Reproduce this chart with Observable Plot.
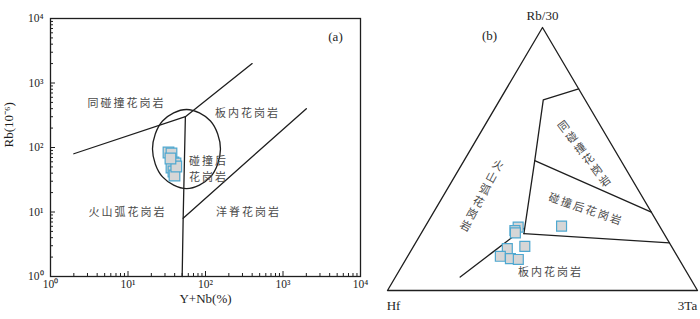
<!DOCTYPE html>
<html><head><meta charset="utf-8">
<script src="https://cdn.jsdelivr.net/npm/d3@7"></script>
<script src="https://cdn.jsdelivr.net/npm/@observablehq/plot@0.6"></script>
<style>
html,body{margin:0;padding:0;background:#fff;}
#wrap{display:flex;width:700px;height:319px;overflow:hidden;}
.cn{letter-spacing:2px;}
</style></head><body><div id="wrap"></div>
<script>
// ---------- (a) Rb vs Y+Nb ----------
const sampleYNb = [33.3, 36.4, 38.6, 41, 36.4, 38.6, 39.8, 42, 35.3];
const sampleRb  = [83.6, 80.7, 58.5, 56.5, 49, 42.5, 36.8, 50.7, 67.5];
const boundarySynVag = [[2, 80], [55, 300]];
const boundarySynWpg = [[55, 300], [400, 2000]];
const boundaryVagWpg = [[55, 300], [51.5, 8], [50, 1]];
const boundaryOrgWpg = [[51.5, 8], [2000, 400]];
const postColField = [[156, 94.8], [116, 257], [57, 388], [27.9, 257], [20.7, 94.8], [27.9, 35], [57, 23.1], [116, 35]];
const majorTicks = [1, 10, 100, 1000, 10000];
const supDigits = ["⁰", "¹", "²", "³", "⁴"];
const fieldNamesA = ["同碰撞花岗岩", "板内花岗岩", "碰撞后", "花岗岩", "火山弧花岗岩", "洋脊花岗岩"];
const fieldPosAx = [9.57, 348, 109, 109, 9.86, 359];
const fieldPosAy = [481, 337, 60, 34, 9.83, 9.83];

// ---------- (b) Hf - Rb/30 - 3Ta ----------
const sampleHf = [0.458, 0.475, 0.478, 0.316, 0.473, 0.534, 0.571, 0.543, 0.519];
const sampleRb30 = [0.241, 0.228, 0.219, 0.245, 0.168, 0.159, 0.130, 0.121, 0.118];
const sample3Ta = [0.301, 0.297, 0.303, 0.439, 0.359, 0.307, 0.299, 0.336, 0.363];
// boundary vertices as [Hf, Rb/30, 3Ta]
const triEdge = [[1, 0, 0], [0, 1, 0], [0, 0, 1], [1, 0, 0]];
const lineSynCol = [[0, 0.767, 0.233], [0.135, 0.725, 0.14], [0.278, 0.494, 0.228], [0.452, 0.216, 0.332]];
const lineSynPost = [[0.278, 0.494, 0.228], [0, 0.298, 0.702]];
const linePostWp = [[0.452, 0.216, 0.332], [0, 0.181, 0.819]];
const lineVagWp = [[0.74, 0.051, 0.209], [0.592, 0.143, 0.265], [0.442, 0.236, 0.322]];
const fieldNamesB = ["火\n山\n弧\n花\n岗\n岩", "同\n碰\n撞\n花\n岗\n岩", "碰撞后花岗岩", "板内花岗岩"];
const fieldPosB = [[0.512, 0.361, 0.127], [0.102, 0.524, 0.374], [0.204, 0.311, 0.485], [0.439, 0.070, 0.491]];
const fieldRotB = [28, -37, 19, 0];

const ink = "#1e1e1e";
const labelInk = "#4a4a4a";
const sqFill = "#d6d6d6";
const sqStroke = "#4fa8d0";
const serif = "'Liberation Serif', 'Times New Roman', serif";

const minorTicks = [];
for (const d of [1, 10, 100, 1000]) for (let k = 2; k <= 9; k++) minorTicks.push(d * k);
const fmtPow = d => "10" + supDigits[Math.round(Math.log10(d))];

const ptsA = sampleYNb.map((x, i) => ({x, y: sampleRb[i]}));
const seg = arr => arr.map(([x, y]) => ({x, y}));
const labelsA = fieldNamesA.map((t, i) => ({t, x: fieldPosAx[i], y: fieldPosAy[i]}));

const plotA = Plot.plot({
  width: 370, height: 319,
  marginLeft: 50, marginRight: 10, marginTop: 18, marginBottom: 43,
  style: {fontFamily: serif, fontSize: "12px", background: "#fff", color: ink},
  x: {type: "log", domain: [1, 10000]},
  y: {type: "log", domain: [1, 10000]},
  marks: [
    Plot.frame({stroke: ink, strokeWidth: 1.3}),
    Plot.axisX(minorTicks, {anchor: "bottom", tickSize: -3, fill: "none", label: null, stroke: ink}),
    Plot.axisX(majorTicks, {anchor: "bottom", tickSize: -5, fill: "none", label: null, stroke: ink}),
    Plot.axisX(majorTicks, {anchor: "bottom", tickSize: 0, tickPadding: 3, tickFormat: fmtPow, label: null, fontSize: 11.5, fill: ink, fontFamily: serif}),
    Plot.axisY(minorTicks, {anchor: "left", tickSize: -3, fill: "none", label: null, stroke: ink}),
    Plot.axisY(majorTicks, {anchor: "left", tickSize: -5, fill: "none", label: null, stroke: ink}),
    Plot.axisY(majorTicks, {anchor: "left", tickSize: 0, tickPadding: 7, tickFormat: fmtPow, label: null, fontSize: 11.5, fill: ink, fontFamily: serif}),
    Plot.text(["Y+Nb(%)"], {frameAnchor: "bottom", dy: 26, fontSize: 13, fill: ink, fontFamily: serif}),
    Plot.text(["Rb(10⁻⁶)"], {frameAnchor: "left", dx: -42, rotate: -90, fontSize: 13, fill: ink, fontFamily: serif}),
    Plot.line(seg(boundarySynVag), {x: "x", y: "y", stroke: ink, strokeWidth: 1.3}),
    Plot.line(seg(boundarySynWpg), {x: "x", y: "y", stroke: ink, strokeWidth: 1.3}),
    Plot.line(seg(boundaryVagWpg), {x: "x", y: "y", stroke: ink, strokeWidth: 1.3}),
    Plot.line(seg(boundaryOrgWpg), {x: "x", y: "y", stroke: ink, strokeWidth: 1.3}),
    Plot.line(seg(postColField), {x: "x", y: "y", stroke: ink, strokeWidth: 1.3, curve: "catmull-rom-closed"}),
    Plot.dot(ptsA, {x: "x", y: "y", symbol: "square", r: 6, fill: sqFill, stroke: sqStroke, strokeWidth: 1.2}),
    Plot.text(labelsA, {x: "x", y: "y", text: "t", fontSize: 11, fill: labelInk, fontFamily: "'Noto Sans CJK SC', sans-serif", className: "cn"}),
    Plot.text(["(a)"], {x: [4760], y: [5260], fontSize: 13, fill: ink, fontFamily: serif})
  ]
});

const toXY = ([hf, rb, ta]) => ({x: ta + rb / 2, y: rb});
const ptsB = sampleHf.map((hf, i) => toXY([hf, sampleRb30[i], sample3Ta[i]]));
const labelsB = fieldNamesB.map((t, i) => ({t, r: fieldRotB[i], ...toXY(fieldPosB[i])}));

const plotB = Plot.plot({
  width: 330, height: 319,
  marginLeft: 17, marginRight: 3, marginTop: 27, marginBottom: 29,
  style: {fontFamily: serif, fontSize: "12px", background: "#fff", color: ink},
  x: {domain: [0, 1], axis: null},
  y: {domain: [0, 1], axis: null},
  marks: [
    Plot.line(triEdge.map(toXY), {x: "x", y: "y", stroke: ink, strokeWidth: 1.3}),
    Plot.line(lineSynCol.map(toXY), {x: "x", y: "y", stroke: ink, strokeWidth: 1.3}),
    Plot.line(lineSynPost.map(toXY), {x: "x", y: "y", stroke: ink, strokeWidth: 1.3}),
    Plot.line(linePostWp.map(toXY), {x: "x", y: "y", stroke: ink, strokeWidth: 1.3}),
    Plot.line(lineVagWp.map(toXY), {x: "x", y: "y", stroke: ink, strokeWidth: 1.3, curve: "natural"}),
    Plot.dot(ptsB, {x: "x", y: "y", symbol: "square", r: 5.6, fill: sqFill, stroke: sqStroke, strokeWidth: 1.2}),
    Plot.text(labelsB, {x: "x", y: "y", text: "t", rotate: "r", fontSize: 11, lineHeight: 1.25, fill: labelInk, fontFamily: "'Noto Sans CJK SC', sans-serif", className: "cn"}),
    Plot.text(["Rb/30"], {x: [0.5], y: [1], dy: -12, fontSize: 13, fill: ink, fontFamily: serif}),
    Plot.text(["Hf"], {x: [0], y: [0], dx: 6, dy: 15, fontSize: 13, fill: ink, fontFamily: serif}),
    Plot.text(["3Ta"], {x: [1], y: [0], dx: -10, dy: 15, fontSize: 13, fill: ink, fontFamily: serif}),
    Plot.text(["(b)"], {x: [0.329], y: [0.97], fontSize: 13, fill: ink, fontFamily: serif})
  ]
});

document.getElementById("wrap").append(plotA, plotB);
</script></body></html>
